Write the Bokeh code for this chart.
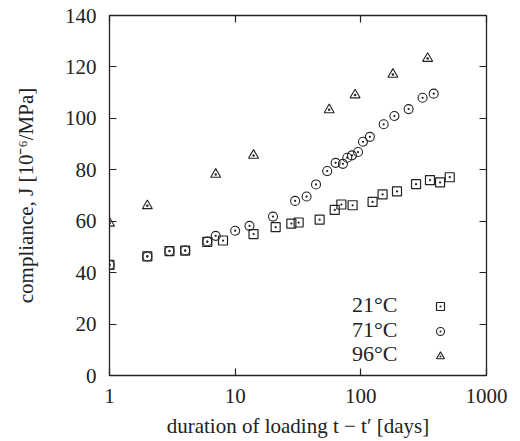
from bokeh.plotting import figure
from bokeh.models import (Range1d, FixedTicker, LogAxis, LinearAxis, Legend,
                          LegendItem, Label, PrintfTickFormatter)
from bokeh.embed import file_html
from bokeh.resources import INLINE

# ---- data ----
days_21 = [1, 2, 3, 4, 6, 8, 14, 21, 28, 32, 47, 62, 70, 86, 124, 149, 194, 275, 355, 427, 510]
J_21 = [43.0, 46.3, 48.4, 48.6, 52.0, 52.5, 55.0, 57.7, 59.1, 59.5, 60.6, 64.4, 66.5, 66.2,
        67.5, 70.4, 71.6, 74.4, 76.0, 75.1, 77.1]

days_71 = [1, 2, 3, 4, 6, 7, 10, 13, 20, 30, 37, 44, 54, 63, 72, 78, 85, 95, 104, 118,
           152, 185, 240, 310, 380]
J_71 = [43.0, 46.3, 48.4, 48.6, 52.1, 54.3, 56.3, 58.2, 61.8, 67.9, 69.6, 74.3, 79.5, 82.7,
        82.3, 84.7, 85.6, 86.9, 90.9, 92.8, 97.7, 100.9, 103.6, 108.0, 109.6]

days_96 = [1, 2, 7, 14, 56, 90, 180, 340]
J_96 = [59.2, 66.0, 78.2, 85.6, 103.3, 109.1, 117.1, 123.3]

series_labels = ["21°C", "71°C", "96°C"]
x_ticks = [1, 10, 100, 1000]
y_ticks = [0, 20, 40, 60, 80, 100, 120, 140]
x_title = "duration of loading t − t′ [days]"
y_title = "compliance, J [10⁻⁶/MPa]"

FONT = "Liberation Serif"
INK = "#222222"

p = figure(width=520, height=441, x_axis_type="log",
           x_range=Range1d(1, 1000), y_range=Range1d(0, 140),
           output_backend="svg", toolbar_location=None,
           min_border_left=109, min_border_right=34,
           min_border_top=15, min_border_bottom=66)
p.background_fill_color = "white"
p.border_fill_color = "white"
p.outline_line_color = INK
p.outline_line_width = 1.3
p.xgrid.visible = False
p.ygrid.visible = False

def style_axis(ax, labels=True):
    ax.axis_line_color = None
    ax.major_tick_in = 7
    ax.major_tick_out = 0
    ax.minor_tick_in = 0
    ax.minor_tick_out = 0
    ax.major_tick_line_color = INK
    ax.major_tick_line_width = 1.2
    ax.major_label_text_font = FONT
    if labels:
        ax.major_label_text_color = INK
        ax.major_label_text_font_size = "21px"
    else:
        ax.major_label_text_color = None
        ax.major_label_text_font_size = "6px"
        ax.major_label_standoff = 0

xt = FixedTicker(ticks=x_ticks, minor_ticks=[])
yt = FixedTicker(ticks=y_ticks, minor_ticks=[])

p.xaxis.ticker = xt
p.yaxis.ticker = yt
p.xaxis.formatter = PrintfTickFormatter(format="%d")
style_axis(p.xaxis[0])
style_axis(p.yaxis[0])
p.xaxis.major_label_standoff = 13
p.yaxis.major_label_standoff = 13

p.xaxis.axis_label = x_title
p.yaxis.axis_label = y_title
for ax in (p.xaxis[0], p.yaxis[0]):
    ax.axis_label_text_font = FONT
    ax.axis_label_text_font_style = "normal"
    ax.axis_label_text_font_size = "21px"
    ax.axis_label_text_color = INK
p.xaxis.axis_label_standoff = 8
p.yaxis.axis_label_standoff = 24

top = LogAxis(ticker=xt)
style_axis(top, labels=False)
p.add_layout(top, "above")
right = LinearAxis(ticker=yt)
style_axis(right, labels=False)
p.add_layout(right, "right")

r21 = p.scatter(days_21, J_21, marker="square_dot", size=9, fill_color=None,
                line_color=INK, line_width=1.2)
r71 = p.scatter(days_71, J_71, marker="circle_dot", size=9, fill_color=None,
                line_color=INK, line_width=1.1)
r96 = p.scatter(days_96, J_96, marker="triangle_dot", size=10, fill_color=None,
                line_color=INK, line_width=1.1)

legend = Legend(items=[LegendItem(label=series_labels[0], renderers=[r21]),
                       LegendItem(label=series_labels[1], renderers=[r71]),
                       LegendItem(label=series_labels[2], renderers=[r96])],
                location=(320, 9), glyph_width=22, glyph_height=20,
                label_height=20, spacing=5, padding=0, margin=0,
                label_standoff=0, label_width=1,
                label_text_color=None, label_text_font_size="10px",
                border_line_color=None, background_fill_alpha=0)
p.add_layout(legend, "center")

row_y = [304, 329, 353]
for lab, yy in zip(series_labels, row_y):
    p.add_layout(Label(x=397 - 109, y=375 - yy, x_units="screen", y_units="screen",
                       text=lab, text_align="right", text_baseline="middle",
                       text_font=FONT, text_font_size="22px", text_color=INK))

open("out.html", "w").write(file_html(p, INLINE))
